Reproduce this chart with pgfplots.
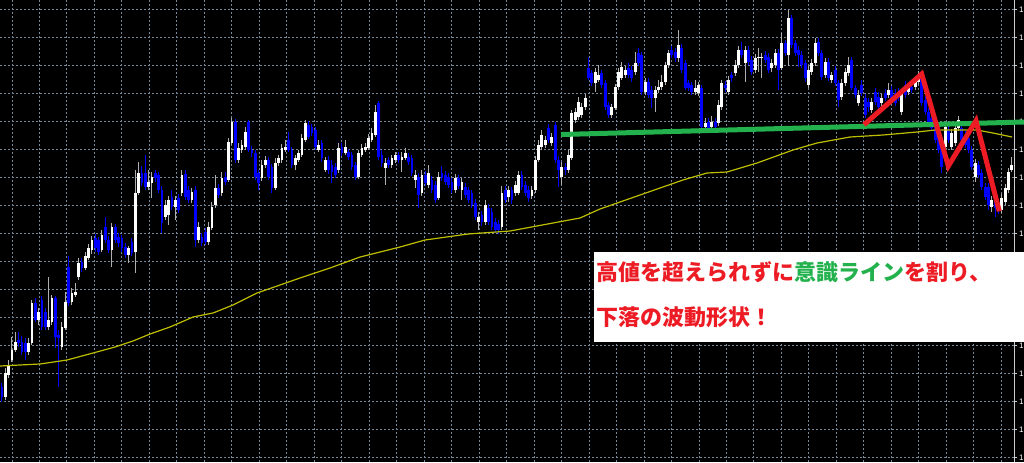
\documentclass[border=0pt]{standalone}
\usepackage{fontspec}
\setmainfont{Liberation Sans}
\newfontfamily\jp{Noto Sans CJK JP}
\usepackage{pgfplots}
\usepackage{pgfplotstable}
\pgfplotsset{compat=1.18}
\definecolor{gridc}{RGB}{119,136,153}
\definecolor{barblue}{RGB}{0,0,255}
\definecolor{wickgray}{RGB}{175,175,175}
\definecolor{maY}{RGB}{190,190,0}
\definecolor{lineG}{RGB}{34,177,76}
\definecolor{lineR}{RGB}{237,28,36}

% candles: open high low close (chart rows, measured from the top)
\pgfplotstableread{
o h l c
387 383 402 397
397 368 400 373
375 360 378 365
360 337 362 350
350 332 352 342
340 332 347 343
342 336 355 352
343 338 360 352
352 338 355 343
343 300 345 303
303 298 322 320
320 308 325 312
300 296 330 327
312 308 330 327
327 277 330 320
322 295 325 298
298 296 348 337
335 330 387 338
347 322 350 327
328 292 330 302
267 256 306 303
302 288 305 293
295 283 297 292
277 258 280 263
262 258 272 268
268 252 270 256
258 244 260 248
250 236 254 240
238 234 252 248
240 237 255 252
250 230 252 235
227 217 243 240
240 236 253 250
250 223 267 227
227 224 243 240
237 233 247 243
238 235 252 248
247 243 258 255
255 246 263 248
242 238 256 253
252 170 273 193
193 162 195 173
173 166 186 183
173 155 190 187
187 170 190 182
183 172 198 177
173 170 182 178
175 172 193 190
190 186 233 223
217 200 220 205
215 196 225 200
197 190 210 207
207 196 220 200
198 194 213 210
193 170 196 175
174 170 200 197
190 186 203 200
200 188 203 192
190 186 247 240
240 222 243 227
237 233 246 243
232 228 245 242
242 222 245 227
228 202 230 207
205 175 208 188
188 184 198 195
193 172 196 178
177 172 185 182
180 138 182 142
143 118 145 122
122 119 163 160
160 143 163 148
150 140 153 145
147 127 150 132
122 120 152 150
150 146 157 153
153 150 180 177
173 170 190 183
178 160 181 165
165 156 168 160
160 157 180 177
167 164 193 188
188 158 190 163
163 155 166 158
160 144 163 148
150 140 152 147
140 132 152 150
150 147 168 165
165 155 170 158
160 150 162 153
155 134 157 138
140 120 142 123
125 121 139 137
127 124 136 133
130 127 150 147
150 140 152 145
143 140 162 158
170 157 172 160
160 156 174 170
165 160 183 172
167 163 178 175
170 143 173 148
147 143 156 153
153 140 155 147
152 149 160 157
155 152 170 167
165 162 180 177
177 150 179 153
155 144 157 148
150 143 152 147
148 134 150 138
140 128 142 133
135 105 137 112
103 101 160 157
155 150 167 163
168 158 185 163
160 157 168 165
165 155 168 158
160 152 163 155
155 152 163 160
160 152 172 157
158 148 160 153
157 153 165 162
158 155 176 173
180 170 188 175
177 173 208 195
193 170 196 175
175 171 186 183
185 165 188 173
180 176 193 190
185 181 203 200
198 172 200 177
173 166 181 178
175 171 185 182
177 173 188 185
182 178 193 190
190 174 193 178
178 175 189 186
190 178 200 182
187 183 198 195
190 187 203 200
193 190 208 205
203 199 220 217
222 212 230 217
215 211 226 222
222 200 225 205
208 204 225 222
212 208 230 227
222 218 233 230
224 220 234 230
227 186 230 193
190 186 203 200
197 186 202 190
190 187 204 200
193 181 196 185
193 171 195 175
175 171 190 187
185 181 196 193
190 186 202 198
196 186 199 190
190 156 193 160
160 140 162 145
147 130 150 135
145 136 148 140
128 124 143 140
143 133 146 137
125 122 163 160
160 156 187 170
177 162 185 167
167 163 175 170
170 150 173 155
158 110 160 113
120 108 123 112
117 97 120 102
115 103 118 107
107 94 110 98
68 57 80 78
73 70 86 83
83 68 92 72
80 65 82 75
73 70 88 85
83 80 110 107
105 102 118 115
115 104 118 107
108 84 110 87
87 68 90 72
78 62 80 67
75 66 78 70
68 63 78 75
70 66 82 78
72 52 75 63
53 48 66 63
55 52 95 92
92 78 95 82
82 78 98 95
90 86 108 98
98 86 112 90
90 80 93 87
87 75 90 82
82 62 85 65
65 50 68 53
50 46 58 55
52 48 62 58
58 30 62 45
48 44 73 70
63 60 90 88
83 80 91 88
85 82 95 92
92 80 95 88
93 82 96 85
88 85 130 127
127 118 130 123
122 118 132 128
127 116 130 122
122 118 130 127
123 100 126 105
107 80 110 83
85 81 92 88
92 76 95 80
75 72 82 78
73 60 76 65
65 46 68 50
50 42 58 55
63 46 82 50
50 46 65 62
60 56 75 72
70 54 73 58
58 48 72 57
58 53 78 57
55 51 63 60
57 53 73 70
68 59 72 63
65 49 68 53
53 49 90 70
68 33 70 43
43 40 56 53
55 10 66 18
18 15 48 45
43 40 56 53
50 46 67 55
55 51 68 65
63 60 82 78
85 66 88 70
72 59 75 63
63 38 66 43
42 38 56 53
53 50 80 77
75 58 78 62
62 58 81 78
80 72 83 75
70 66 86 83
83 80 107 100
97 79 100 83
83 68 86 72
73 57 76 65
60 57 90 88
88 85 98 95
103 90 106 95
85 80 96 93
98 94 118 115
102 98 112 107
110 98 113 102
92 88 105 102
97 92 110 107
103 94 106 98
93 89 101 98
95 83 98 90
90 86 103 100
93 89 106 103
93 88 101 98
112 89 115 93
85 81 98 95
92 83 95 87
87 83 93 90
87 76 90 80
82 71 85 75
78 74 106 103
100 96 115 112
112 108 125 122
118 114 131 128
125 121 143 140
137 133 153 150
147 143 173 167
147 123 150 127
130 126 143 140
147 129 150 133
143 124 146 128
128 116 131 120
128 124 143 140
135 131 148 145
138 134 153 150
150 146 170 167
177 159 182 163
165 161 178 175
173 169 190 187
187 183 200 197
187 183 210 205
207 196 212 200
197 193 217 208
203 199 214 210
210 194 213 198
202 184 205 188
190 168 193 172
170 157 172 165
}\candles

\begin{document}
\begin{tikzpicture}
\useasboundingbox (0,0) rectangle (512pt,231pt);
\clip (0,0) rectangle (512pt,231pt);
\fill[black] (0,0) rectangle (512pt,231pt);
\begin{axis}[
  at={(0,0)}, anchor=south west,
  scale only axis, width=507pt, height=231pt,
  xmin=0, xmax=1014, ymin=0, ymax=462, y dir=reverse,
  clip=false,
  axis line style={draw=none},
  xtick={12,39.48,...,1002},
  xticklabels={},
  xtick style={draw=none},
  ytick={9.3,37.3,...,457.3},
  yticklabels={1,1,1,1,1,1,1,1,1,1,1,1,1,1,1,1,1},
  ytick pos=right, yticklabel pos=right,
  tick align=outside,
  major tick length=1.5pt,
  ytick style={white!80!black, line width=0.4pt},
  yticklabel style={font=\fontsize{4}{4}\selectfont, text=white, anchor=west, inner sep=0pt, xshift=0.8pt},
  grid=major,
  major grid style={gridc, dash pattern=on 1pt off 1pt, line width=0.5pt},
]
% wicks of rising candles
\addplot[wickgray, line width=0.5pt, mark=none, forget plot, -,
  restrict expr to domain={\thisrow{o}-\thisrow{c}}{0:1000},
  quiver={u=0, v=\thisrow{l}-\thisrow{h}}]
  table[x expr={2+3.333*\coordindex}, y=h] {\candles};
% wicks of falling candles
\addplot[barblue, line width=0.5pt, mark=none, forget plot, -,
  restrict expr to domain={\thisrow{c}-\thisrow{o}}{0.5:1000},
  quiver={u=0, v=\thisrow{l}-\thisrow{h}}]
  table[x expr={2+3.333*\coordindex}, y=h] {\candles};
% bodies of rising candles
\addplot[white, line width=1.45pt, mark=none, forget plot, -,
  restrict expr to domain={\thisrow{o}-\thisrow{c}}{0:1000},
  quiver={u=0, v=\thisrow{c}-\thisrow{o}}]
  table[x expr={2+3.333*\coordindex}, y=o] {\candles};
% bodies of falling candles
\addplot[barblue, line width=1.45pt, mark=none, forget plot, -,
  restrict expr to domain={\thisrow{c}-\thisrow{o}}{0.5:1000},
  quiver={u=0, v=\thisrow{c}-\thisrow{o}}]
  table[x expr={2+3.333*\coordindex}, y=o] {\candles};
% moving average
\addplot[maY, line width=0.6pt, mark=none] coordinates {
(0,366) (20,365) (40,364) (67,360) (93,353) (115,347) (133,341) (150,334) (170,327) (193,317) (213,313) (233,305) (257,293) (280,285) (300,278) (330,268) (360,257) (400,247) (425,240) (468,234) (510,231) (553,223) (580,218) (600,209) (640,195) (683,180) (707,173) (727,172) (757,163) (793,150) (817,143) (850,137) (883,135) (917,132) (935,130) (977,130) (993,133) (1012,137)};
% right price scale line
\draw[white!80!black, line width=0.5pt] (axis cs:1014,0) -- (axis cs:1014,462);
% horizontal line
\addplot[lineG, line width=2.5pt, mark=none] coordinates {(561,134.5) (1024,122)};
% wave
\addplot[lineR, line width=2.5pt, mark=none] coordinates {(864,124.7) (921.7,74) (948.3,166) (976,120.7) (999.3,211.3)};
\end{axis}
\fill[white] (297pt,60pt) rectangle (512pt,105pt);
\node[anchor=west, inner sep=0pt, font=\jp\bfseries\fontsize{11}{11}\selectfont] at (298pt,95pt)
  {\textcolor{lineR}{高値を超えられずに}\textcolor{lineG}{意識ライン}\textcolor{lineR}{を割り、}};
\node[anchor=west, inner sep=0pt, font=\jp\bfseries\fontsize{11}{11}\selectfont] at (298pt,72.5pt)
  {\textcolor{lineR}{下落の波動形状！}};
\end{tikzpicture}
\end{document}
